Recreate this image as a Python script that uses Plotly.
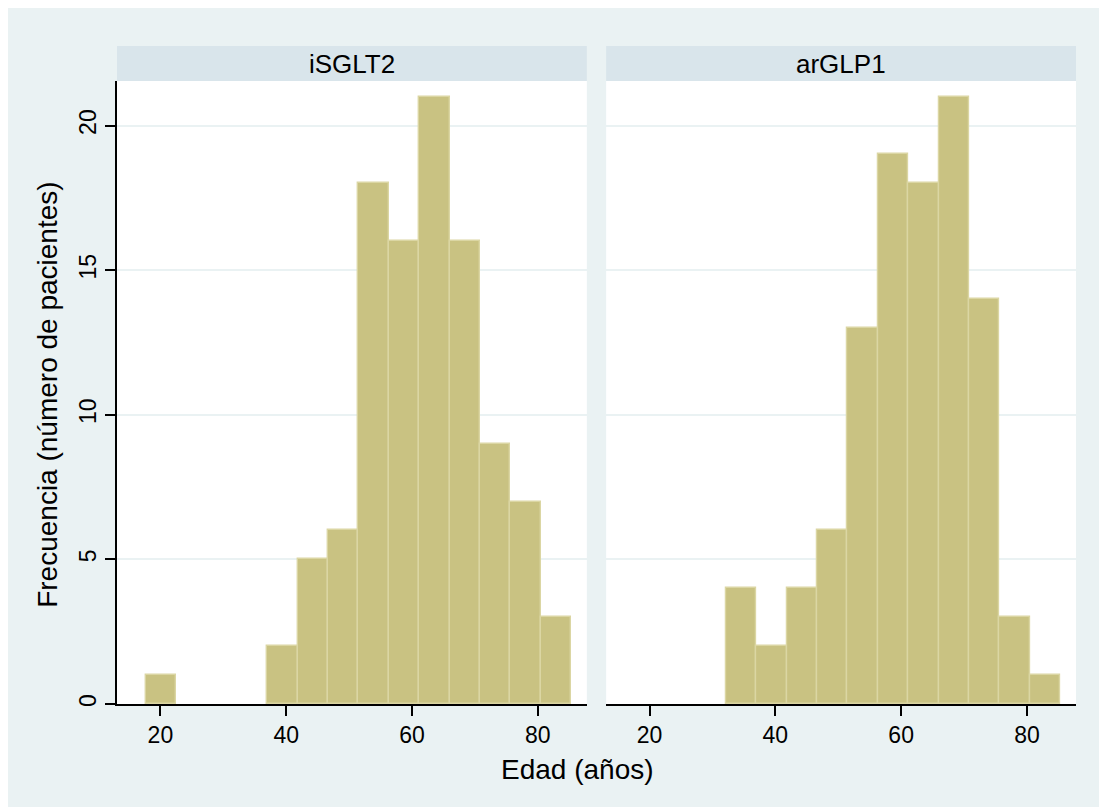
import plotly.graph_objects as go

# ---- data ----
groups = ["iSGLT2", "arGLP1"]
bin_start = 17.68
bin_width = 4.83
counts_isglt2 = [1, 0, 0, 0, 2, 5, 6, 18, 16, 21, 16, 9, 7, 3]
counts_arglp1 = [0, 0, 0, 4, 2, 4, 6, 13, 19, 18, 21, 14, 3, 1]
x_ticks = [20, 40, 60, 80]
y_ticks = [0, 5, 10, 15, 20]
x_title = "Edad (años)"
y_title = "Frecuencia (número de pacientes)"

# ---- style ----
W, H = 1120, 807
OFF = 8  # page body margin
ML, MT = 117 - OFF, 81 - OFF
MR = W - (1075.7 - OFF)
MB = H - (704.3 - OFF)
outer_bg = "rgb(234,242,243)"
strip_bg = "rgb(217,229,235)"
bar_fill = "rgb(201,194,130)"
bar_line = "rgb(219,214,163)"
grid_col = "rgb(234,242,243)"
font_family = "Liberation Sans, Arial, sans-serif"

centers = [bin_start + bin_width * (i + 0.5) for i in range(len(counts_isglt2))]

fig = go.Figure()
for i, counts in enumerate([counts_isglt2, counts_arglp1]):
    xa = "x" if i == 0 else "x2"
    ya = "y" if i == 0 else "y2"
    yvals = [c if c > 0 else None for c in counts]
    fig.add_trace(go.Bar(
        x=centers, y=yvals, width=bin_width,
        marker=dict(color=bar_fill, line=dict(color=bar_line, width=1.4)),
        xaxis=xa, yaxis=ya, showlegend=False, hoverinfo="x+y",
    ))

pw = W - ML - MR
ph = H - MT - MB
gap = 19.3 / pw
d1 = [0, 0.5 - gap / 2]
d2 = [0.5 + gap / 2, 1]


def px_x(px):  # page px -> paper x
    return (px - OFF - ML) / pw


def px_y(py):  # page px -> paper y
    return (H - MB - (py - OFF)) / ph


xcommon = dict(range=[13.1, 87.8], tickvals=x_ticks, ticks="outside", ticklen=10,
               tickwidth=1.5, tickcolor="black", showline=True, linecolor="black",
               linewidth=1.5, showgrid=False, zeroline=False,
               tickfont=dict(size=23, color="black", family=font_family))
ycommon = dict(range=[0, 21.54], tickvals=y_ticks, showgrid=True, gridcolor=grid_col,
               gridwidth=1.5, zeroline=False)

strip_h = 35 / ph

shapes = []
annotations = []
for i, (g, dom) in enumerate(zip(groups, [d1, d2])):
    shapes.append(dict(type="rect", xref="paper", yref="paper",
                       x0=dom[0], x1=dom[1], y0=1, y1=1 + strip_h,
                       fillcolor=strip_bg, line=dict(width=0), layer="below"))
    annotations.append(dict(text=g, xref="paper", yref="paper",
                            x=(dom[0] + dom[1]) / 2, y=1 + strip_h / 2,
                            showarrow=False, xanchor="center", yanchor="middle",
                            font=dict(size=26, color="black", family=font_family)))

annotations.append(dict(text=x_title, xref="paper", yref="paper",
                        x=px_x(577), y=px_y(770),
                        showarrow=False, xanchor="center", yanchor="middle",
                        font=dict(size=28, color="black", family=font_family)))
annotations.append(dict(text=y_title, xref="paper", yref="paper",
                        x=px_x(48), y=px_y(395), textangle=-90,
                        showarrow=False, xanchor="center", yanchor="middle",
                        font=dict(size=28, color="black", family=font_family)))

fig.update_layout(
    width=W, height=H,
    margin=dict(l=ML, r=MR, t=MT, b=MB, pad=0),
    paper_bgcolor=outer_bg, plot_bgcolor="white",
    bargap=0,
    xaxis=dict(domain=d1, anchor="y", **xcommon),
    xaxis2=dict(domain=d2, anchor="y2", **xcommon),
    yaxis=dict(domain=[0, 1], anchor="x", showline=True, linecolor="black", linewidth=1.5,
               ticks="outside", ticklen=10, tickwidth=1.5, tickcolor="black", tickangle=-90,
               tickfont=dict(size=23, color="black", family=font_family), **ycommon),
    yaxis2=dict(domain=[0, 1], anchor="x2", showline=False, ticks="", showticklabels=False,
                **ycommon),
    shapes=shapes, annotations=annotations,
    font=dict(family=font_family, color="black"),
)

fig.write_html("out.html")
